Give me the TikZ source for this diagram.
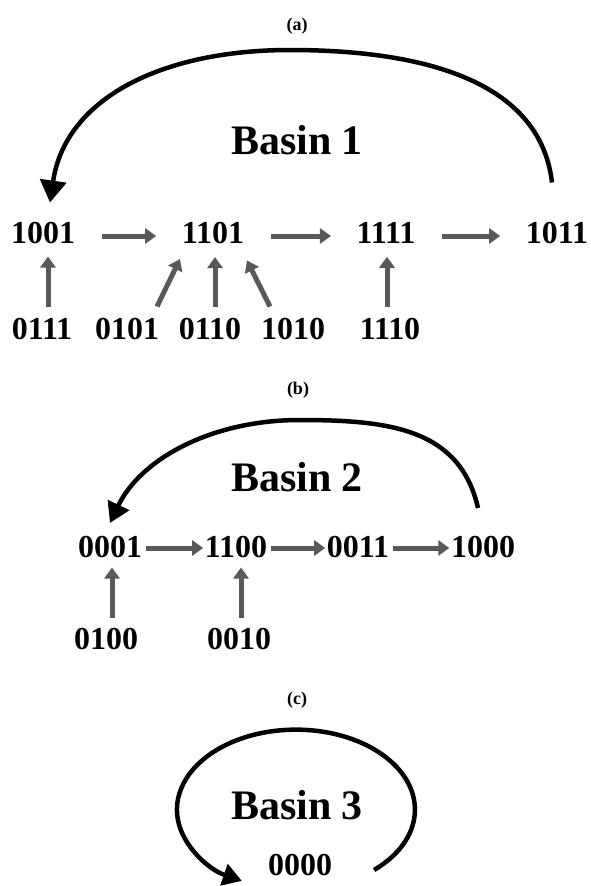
\documentclass[tikz,border=0pt]{standalone}
\usepackage{fontspec}
\setmainfont{Liberation Serif}
\usetikzlibrary{arrows.meta,calc}
\definecolor{arrowgray}{HTML}{595959}
\begin{document}
\begin{tikzpicture}[x=1pt,y=1pt,
  stname/.style={inner sep=0pt, font=\fontsize{32}{32}\selectfont\bfseries},
  basinname/.style={inner sep=0pt, font=\fontsize{42}{42}\selectfont\bfseries},
  panel/.style={inner sep=0pt, font=\fontsize{18}{18}\selectfont\bfseries},
  flow/.style={draw=arrowgray, line width=5pt, -{Triangle[length=11pt,width=15pt]}},
  loopline/.style={draw=black, line width=4.5pt, -{Triangle[length=22pt,width=26pt]}},
]
\useasboundingbox (0,0) rectangle (591,-886);

% ---------- (a) Basin 1 ----------
\node[panel] (la) at (297,-26) {(a)};
\node[basinname] (b1) at (297,-140) {Basin 1};
\node[stname] (n1001) at (43,-233) {1001};
\node[stname] (n1101) at (213,-233) {1101};
\node[stname] (n1111) at (386,-233) {1111};
\node[stname] (n1011) at (557,-233) {1011};
\node[stname] (n0111) at (42,-329) {0111};
\node[stname] (n0101) at (127,-329) {0101};
\node[stname] (n0110) at (210,-329) {0110};
\node[stname] (n1010) at (293,-329) {1010};
\node[stname] (n1110) at (390,-329) {1110};

\foreach \s/\t in {n1001/n1101, n1101/n1111, n1111/n1011}
  \draw[flow, shorten <=26.5pt, shorten >=25.5pt]
    ([yshift=-3pt]\s.east) -- ([yshift=-3pt]\t.west);

\draw[flow] ($(n0111.north)+(6,11.5)$) -- ($(n1001.south)+(5,-12.5)$);
\draw[flow] ($(n0101.north)+(30,11.5)$) -- ($(n1101.south)+(-33,-15)$);
\draw[flow] ($(n0110.north)+(5,11.5)$) -- ($(n1101.south)+(2,-13)$);
\draw[flow] ($(n1010.north)+(-23,11.5)$) -- ($(n1101.south)+(34,-16.5)$);
\draw[flow] ($(n1110.north)+(-3,11.5)$) -- ($(n1111.south)+(1,-13)$);

\coordinate (a-from) at ($(n1011.north)+(-5,39.5)$);
\coordinate (a-to) at ($(n1001.north)+(7,19.5)$);
\draw[loopline] (a-from) .. controls ($(a-from)+(-12,103)$) and (420,-50) .. (290,-50)
  .. controls (160,-50) and ($(a-to)+(15,103)$) .. (a-to);

% ---------- (b) Basin 2 ----------
\node[panel] (lb) at (298,-390) {(b)};
\node[basinname] (b2) at (297,-477) {Basin 2};
\node[stname] (n0001) at (110,-547) {0001};
\node[stname] (n1100) at (236,-547) {1100};
\node[stname] (n0011) at (358,-547) {0011};
\node[stname] (n1000) at (483,-547) {1000};
\node[stname] (n0100) at (106,-639) {0100};
\node[stname] (n0010) at (239,-639) {0010};

\foreach \s/\t in {n0001/n1100, n1100/n0011, n0011/n1000}
  \draw[flow, shorten <=3.5pt, shorten >=1.5pt]
    ([yshift=-1pt]\s.east) -- ([yshift=-1pt]\t.west);

\draw[flow] ($(n0100.north)+(6,10.5)$) -- ($(n0001.south)+(2,-9.5)$);
\draw[flow] ($(n0010.north)+(2,10.5)$) -- ($(n1100.south)+(5,-9.5)$);

\coordinate (b-from) at ($(n1000.north)+(-5,28)$);
\coordinate (b-to) at ($(n0001.north)+(0,13)$);
\draw[loopline, -{Triangle[length=20pt,width=23pt]}]
  (b-from) .. controls ($(b-from)+(-18,79)$) and (390,-420) .. (300,-420)
  .. controls (210,-420) and ($(b-to)+(30,63)$) .. (b-to);

% ---------- (c) Basin 3 ----------
\node[panel] (lc) at (297,-700) {(c)};
\node[basinname] (b3) at (297,-805) {Basin 3};
\node[stname] (n0000) at (300,-865) {0000};

\coordinate (c-from) at ($(n0000)+(74,-5)$);
\draw[loopline, -{Triangle[length=19pt,width=22pt]}]
  (c-from) arc[start angle=-49, end angle=243, x radius=119pt, y radius=80pt];
\end{tikzpicture}
\end{document}
